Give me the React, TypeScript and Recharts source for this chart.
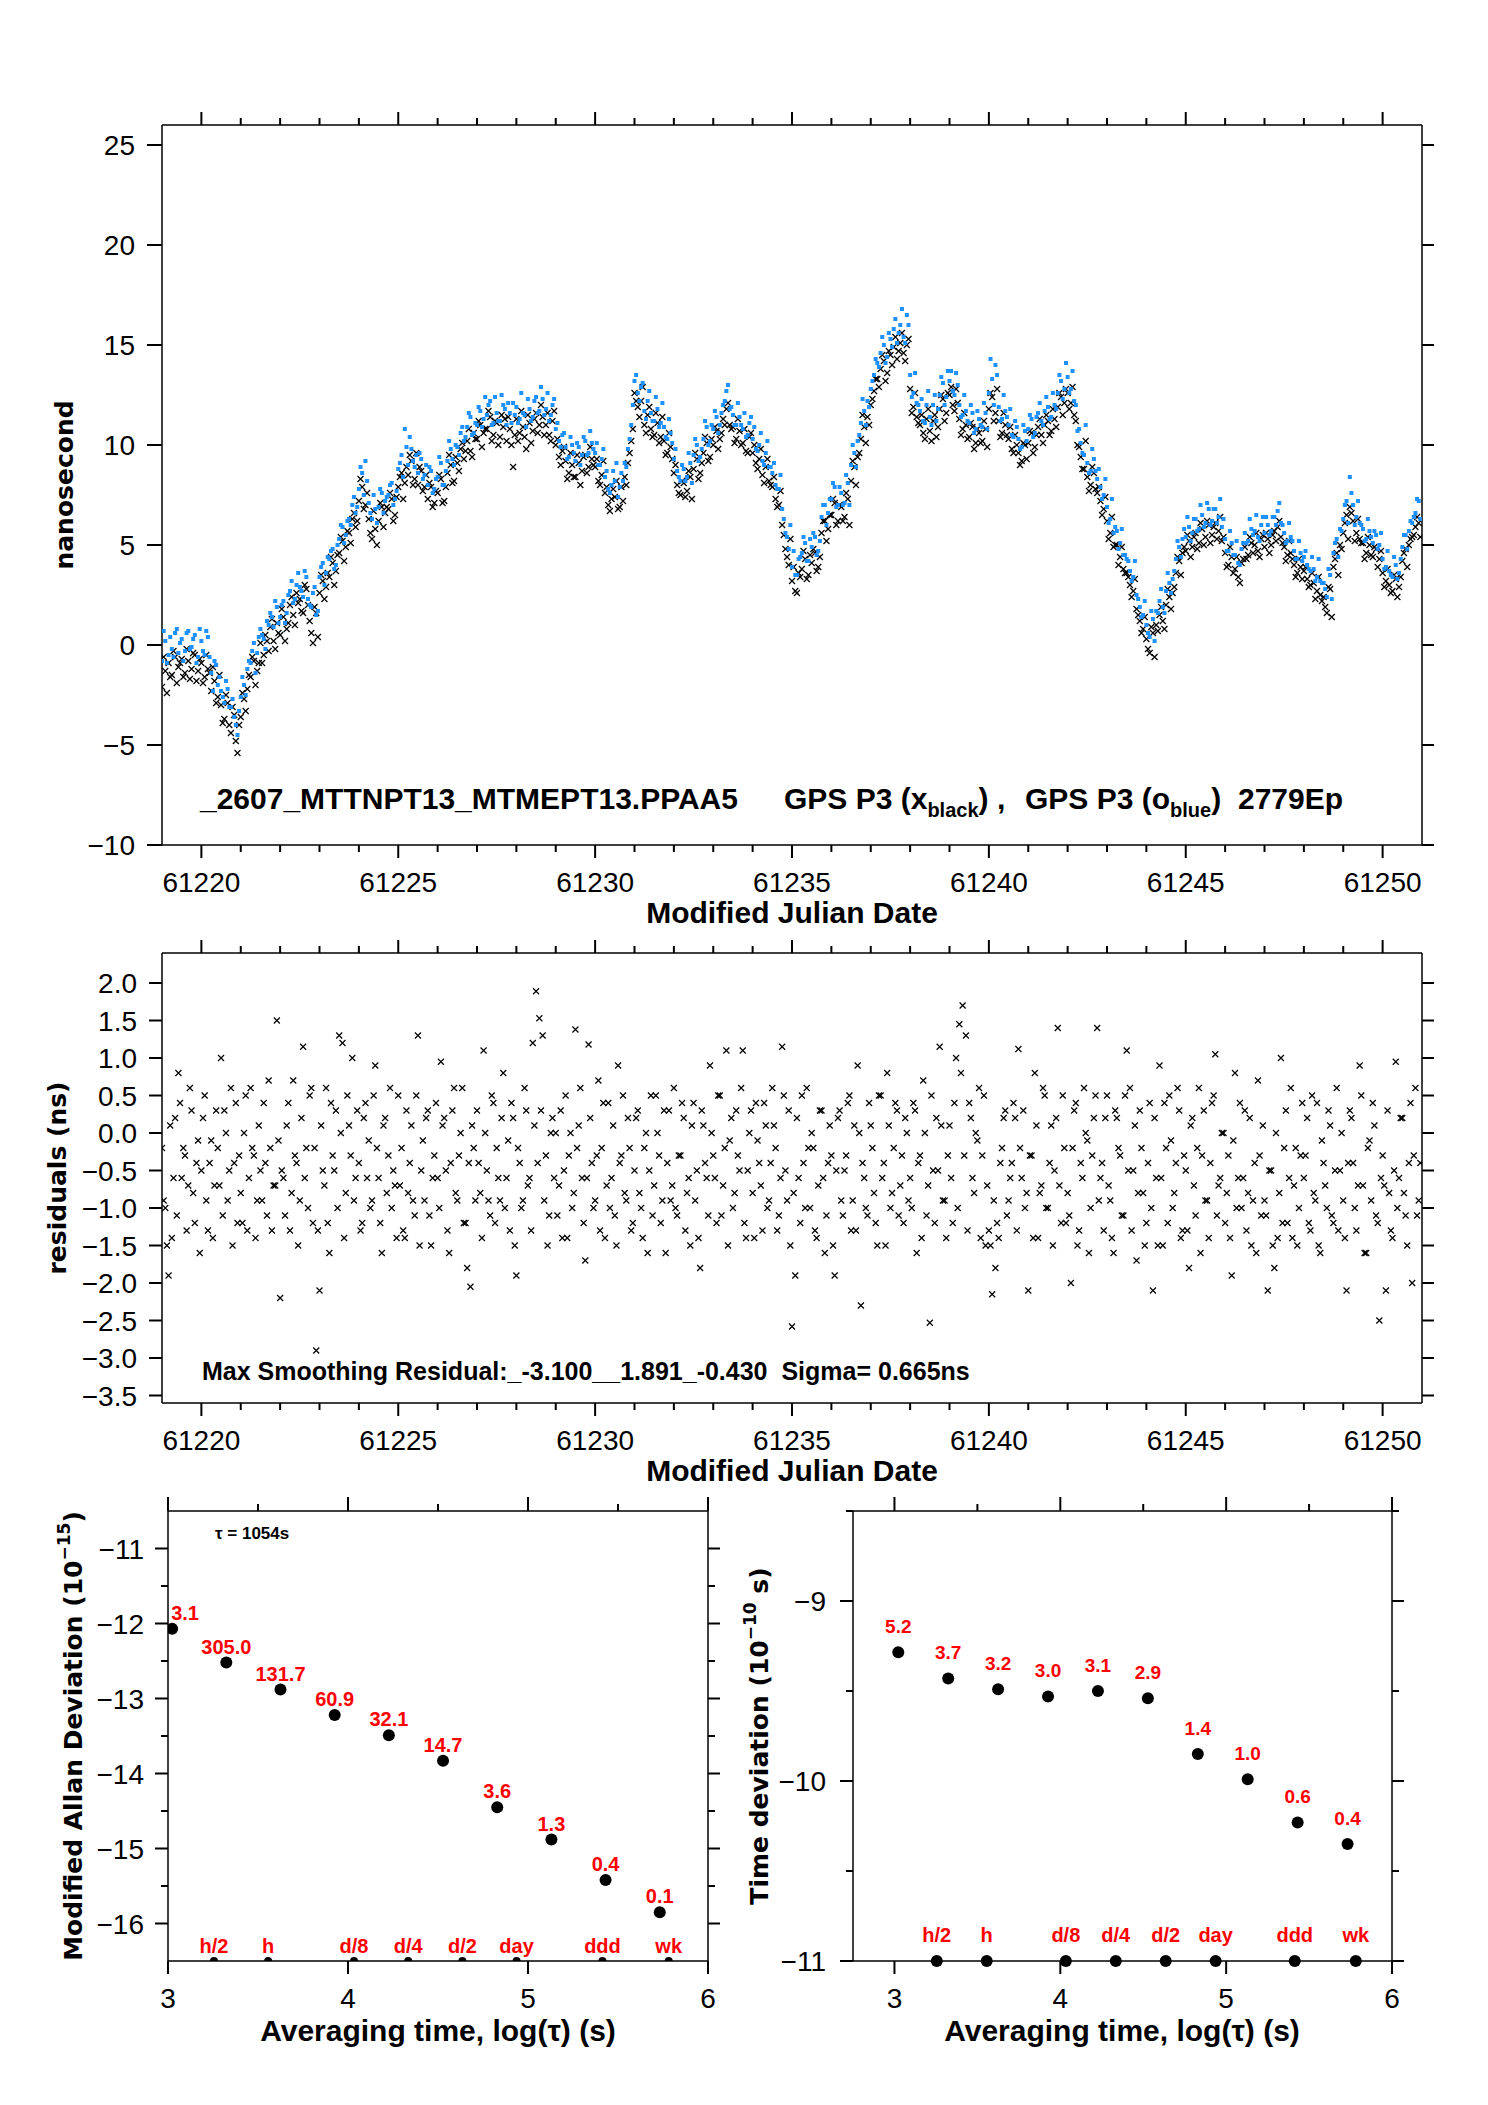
import React from 'react';
import { ScatterChart, Scatter, XAxis, YAxis } from 'recharts';

// ---------------- data ----------------
const MJD_START = 61219;
const SAMPLES_PER_DAY = 12;

// GPS P3 (x black) time offsets, ns, 12 samples per day from MJD 61219 (on the sample grid)
const blackNs: number[] = [
  -2.1, -1.3, -0.9, -1.5, -0.6, -1.1, -0.7, -1.4, -0.8, -1.2, -0.5, -1.3,
  -0.9, -1.6, -1.2, -2.3, -1.8, -2.6, -3.0, -3.7, -2.9, -4.4, -3.5, -5.4,
  -3.6, -2.7, -2.2, -1.6, -0.8, -1.3, 0.1, -0.5, 0.2, 0.9, 0.2, 1.1,
  0.5, 1.4, 0.8, 2.0, 1.5, 2.6, 2.3, 1.6, 2.8, 1.2, 0.1, 1.6,
  2.6, 3.2, 2.9, 3.4, 4.1, 3.7, 4.6, 5.2, 4.9, 5.6, 6.3, 5.9,
  7.2, 7.9, 7.0, 6.3, 5.3, 5.8, 6.2, 6.9, 6.6, 6.8, 7.3, 6.5,
  7.9, 8.6, 8.1, 8.5, 9.2, 8.3, 8.0, 8.7, 7.9, 7.3, 7.9, 7.1,
  7.6, 8.3, 7.2, 8.6, 9.0, 8.2, 9.1, 9.8, 9.3, 10.2, 9.7, 10.6,
  10.3, 11.0, 10.6, 10.8, 11.4, 10.5, 11.1, 10.4, 10.9, 10.2, 10.8, 8.9,
  11.3, 10.6, 10.9, 9.8, 11.1, 10.7, 11.6, 11.0, 11.4, 11.0, 10.5, 11.2,
  10.0, 9.4, 9.7, 9.2, 8.6, 9.0, 8.4, 9.1, 8.7, 9.5, 8.9, 9.3,
  8.9, 8.2, 8.5, 7.6, 7.0, 7.3, 7.4, 6.8, 7.9, 8.4, 9.1, 10.2,
  12.6, 11.9, 12.2, 11.0, 11.5, 10.8, 10.5, 11.1, 10.4, 10.2, 9.6, 9.9,
  8.6, 8.0, 7.5, 8.1, 7.7, 8.4, 8.8, 9.3, 8.6, 9.6, 10.1, 9.4,
  10.0, 10.7, 10.3, 11.3, 11.8, 11.0, 10.9, 10.3, 10.7, 10.1, 9.7, 10.4,
  9.6, 9.1, 9.3, 8.5, 8.9, 8.2, 7.9, 7.3, 7.0, 6.0, 4.8, 4.0,
  3.2, 2.7, 3.6, 3.8, 4.3, 3.5, 4.1, 4.6, 3.9, 5.6, 6.2, 5.8,
  6.5, 7.1, 6.2, 6.9, 6.4, 7.3, 8.2, 8.9, 9.4, 10.3, 10.9, 11.4,
  12.0, 12.7, 13.3, 13.8, 14.2, 13.6, 14.5, 14.9, 14.3, 15.1, 14.6, 15.0,
  12.8, 11.9, 11.4, 11.0, 10.6, 11.3, 10.7, 11.2, 10.4, 11.8, 12.3, 11.6,
  12.5, 12.0, 12.8, 11.3, 10.8, 11.0, 10.4, 10.9, 10.1, 10.6, 10.2, 10.8,
  11.8, 12.4, 11.6, 11.2, 10.6, 11.0, 10.3, 9.8, 10.5, 9.6, 9.2, 10.0,
  10.1, 10.6, 9.9, 10.9, 10.5, 11.0, 11.2, 10.7, 11.3, 11.9, 12.4, 12.1,
  12.6, 12.1, 11.5, 10.0, 9.4, 8.8, 8.4, 8.0, 8.6, 7.6, 7.2, 6.8,
  6.2, 5.6, 4.9, 5.0, 4.4, 3.8, 3.6, 3.0, 2.7, 1.8, 1.2, 0.8,
  0.3, -0.4, 0.6, 1.0, 1.5, 1.2, 2.0, 2.4, 2.6, 3.6, 4.2, 4.6,
  4.7, 5.2, 4.9, 5.6, 5.1, 5.8, 5.4, 6.0, 5.5, 6.1, 5.7, 5.2,
  4.6, 4.0, 4.4, 3.8, 3.4, 4.1, 4.9, 4.5, 5.1, 5.0, 4.7, 5.3,
  4.9, 5.3, 5.0, 5.7, 5.9, 5.4, 4.9, 4.5, 4.6, 4.0, 3.6, 3.9,
  3.7, 3.3, 3.0, 3.1, 2.7, 2.5, 2.4, 1.6, 2.8, 3.9, 4.6, 5.0,
  5.6, 6.5, 6.9, 6.2, 5.6, 5.3, 5.1, 4.6, 5.0, 4.4, 4.8, 4.3,
  3.6, 3.2, 3.0, 2.7, 3.3, 2.9, 4.2, 4.8, 5.0, 5.4, 5.9, 6.1,
];

// GPS P3 (x black), the epochs half-way between the ones above
const blackNsMid: number[] = [
  -0.6, -2.4, -1.6, -0.3, -1.9, -0.9, -1.6, -0.2, -1.7, -0.4, -1.8, -0.7,
  -1.9, -0.5, -1.4, -1.1, -2.9, -1.5, -3.9, -2.5, -4.0, -3.1, -4.8, -4.0,
  -2.4, -3.3, -1.5, -0.6, -2.0, -0.9, -0.9, 0.5, -0.3, 1.3, -0.2, 0.6,
  1.8, 0.2, 1.1, 2.4, 1.0, 2.1, 1.7, 3.0, 2.0, 0.6, 1.9, 0.4,
  3.5, 2.3, 3.6, 4.4, 3.0, 4.5, 5.4, 4.2, 5.7, 5.1, 6.6, 6.2,
  8.3, 6.8, 7.6, 5.6, 6.7, 5.0, 7.1, 5.9, 6.9, 7.6, 6.2, 7.4,
  8.4, 7.3, 8.9, 9.5, 8.0, 9.6, 8.9, 7.7, 8.5, 8.1, 6.9, 7.7,
  8.5, 7.1, 7.9, 9.5, 8.1, 9.4, 8.7, 10.1, 9.7, 10.8, 9.4, 10.3,
  11.2, 9.9, 10.8, 11.7, 10.2, 11.2, 10.0, 11.5, 11.3, 11.4, 10.0, 10.5,
  10.2, 11.7, 10.4, 11.5, 10.1, 11.3, 10.6, 12.0, 10.5, 11.6, 10.2, 11.7,
  10.3, 9.0, 9.9, 8.3, 9.6, 8.4, 9.5, 8.0, 9.4, 8.6, 9.9, 9.0,
  9.3, 8.0, 9.2, 7.9, 6.7, 7.8, 8.2, 6.9, 7.2, 8.0, 9.6, 10.8,
  12.2, 11.4, 12.9, 10.6, 11.9, 10.4, 11.6, 10.1, 11.4, 9.5, 10.6, 9.3,
  9.0, 7.6, 8.2, 7.4, 8.7, 7.3, 9.6, 8.3, 9.1, 10.4, 9.2, 10.3,
  10.9, 9.8, 10.6, 11.0, 12.1, 10.8, 10.1, 11.3, 10.0, 10.8, 9.6, 10.6,
  10.0, 8.8, 9.8, 8.1, 9.3, 8.0, 8.4, 6.9, 7.7, 5.5, 4.4, 5.3,
  3.9, 2.6, 3.4, 4.7, 3.3, 4.5, 4.8, 3.7, 4.4, 6.2, 5.2, 6.5,
  7.3, 6.0, 7.0, 6.2, 7.6, 6.0, 9.2, 8.0, 9.6, 11.5, 10.1, 11.0,
  12.3, 13.3, 12.9, 14.5, 13.2, 14.7, 14.0, 15.4, 14.7, 15.6, 14.2, 15.3,
  11.6, 12.6, 11.1, 11.5, 10.3, 11.8, 10.2, 11.5, 10.9, 12.5, 11.2, 12.6,
  12.9, 11.7, 12.1, 10.5, 11.6, 10.3, 11.1, 9.8, 10.8, 10.1, 11.2, 9.9,
  12.6, 11.2, 12.8, 10.4, 11.6, 10.5, 10.9, 9.6, 10.0, 9.0, 10.1, 9.3,
  10.7, 9.6, 10.5, 11.3, 10.1, 11.5, 10.5, 11.8, 10.9, 12.6, 11.5, 12.8,
  11.8, 12.9, 11.2, 9.9, 8.8, 10.2, 7.7, 8.9, 7.8, 7.9, 6.5, 7.4,
  5.3, 6.4, 5.0, 4.0, 4.9, 3.6, 3.4, 2.4, 3.3, 1.5, 0.6, 1.4,
  -0.2, 0.9, -0.6, 0.7, 1.9, 0.8, 2.8, 1.8, 2.9, 4.4, 3.5, 4.9,
  5.5, 4.4, 5.4, 4.8, 6.1, 5.0, 6.2, 5.1, 5.9, 5.3, 6.4, 5.4,
  3.9, 4.9, 3.6, 4.4, 3.1, 4.3, 4.3, 5.4, 4.6, 5.6, 4.4, 5.5,
  5.6, 4.6, 5.5, 5.2, 6.2, 5.1, 4.2, 5.2, 4.3, 3.4, 4.3, 3.3,
  3.9, 2.9, 3.6, 2.3, 3.4, 2.2, 1.9, 2.9, 1.4, 4.3, 3.5, 4.8,
  6.1, 5.3, 6.6, 5.2, 6.3, 5.1, 4.3, 5.4, 4.5, 4.9, 3.9, 4.7,
  2.9, 3.8, 2.6, 3.5, 2.4, 3.4, 4.6, 3.9, 5.3, 5.5, 6.4, 5.4,
];

// GPS P3 (o blue) time offsets, ns, 12 samples per day from MJD 61219
const blueNs: number[] = [
  -0.8, 0.2, -0.5, -0.2, 0.6, -0.4, 0.3, -0.3, 0.7, -0.1, 0.5, -0.6,
  0.2, -0.5, 0.4, -1.4, -0.8, -2.0, -2.3, -2.9, -2.2, -3.1, -3.6, -4.5,
  -2.6, -2.0, -1.2, -0.9, 0.1, -0.4, 0.8, 0.3, 1.2, 1.6, 0.9, 1.9,
  1.4, 2.2, 1.6, 2.7, 2.1, 3.0, 2.9, 2.4, 3.4, 2.0, 2.6, 1.5,
  3.4, 4.1, 3.6, 4.3, 4.8, 4.0, 5.3, 5.9, 5.5, 6.3, 7.0, 6.6,
  7.8, 8.6, 9.2, 7.1, 6.3, 6.8, 6.9, 7.6, 7.2, 7.5, 8.1, 7.3,
  8.8, 9.5, 10.8, 9.0, 9.8, 8.9, 8.6, 9.3, 8.5, 8.0, 8.7, 7.8,
  8.4, 9.1, 8.0, 9.2, 9.8, 9.0, 9.9, 10.6, 10.2, 10.9, 11.4, 10.6,
  11.0, 11.7, 11.3, 11.5, 12.2, 11.1, 11.6, 11.2, 12.0, 11.0, 11.6, 12.1,
  11.9, 11.3, 11.6, 10.9, 11.8, 11.4, 12.4, 11.7, 12.3, 11.8, 11.2, 12.0,
  10.8, 10.2, 10.5, 9.9, 9.4, 10.0, 9.2, 9.9, 9.5, 10.2, 9.6, 10.1,
  9.6, 9.0, 9.3, 8.4, 7.8, 8.0, 8.2, 7.4, 8.6, 9.1, 9.8, 11.0,
  13.2, 12.6, 12.9, 11.7, 12.2, 11.6, 11.2, 11.8, 11.1, 10.9, 10.3, 10.6,
  9.3, 8.7, 8.2, 8.8, 8.4, 9.1, 9.5, 10.0, 9.4, 10.3, 10.9, 10.2,
  10.8, 11.4, 11.0, 12.0, 12.7, 11.8, 11.5, 11.0, 11.4, 10.8, 10.4, 11.1,
  10.3, 9.8, 10.0, 9.2, 9.6, 8.9, 8.6, 8.0, 7.8, 6.8, 5.6, 4.8,
  3.9, 3.5, 4.3, 4.6, 5.1, 4.2, 4.9, 5.4, 4.7, 6.4, 7.0, 6.6,
  7.3, 7.9, 7.0, 7.6, 7.1, 8.1, 9.0, 9.6, 10.2, 11.1, 11.7, 12.2,
  12.8, 13.5, 14.1, 14.6, 15.0, 14.4, 15.3, 15.8, 15.1, 16.0, 15.4, 16.5,
  13.5, 12.6, 12.1, 11.7, 11.2, 12.0, 11.4, 12.0, 11.2, 12.5, 13.1, 12.4,
  13.2, 12.7, 13.6, 12.0, 11.5, 11.7, 11.1, 11.6, 10.8, 11.3, 10.9, 11.6,
  12.6, 13.3, 14.0, 11.9, 11.3, 11.7, 11.0, 10.5, 11.2, 10.3, 9.9, 10.7,
  10.8, 11.3, 10.6, 11.6, 11.2, 11.7, 11.9, 11.4, 12.0, 12.6, 13.2, 12.8,
  13.4, 12.8, 12.2, 10.7, 10.1, 9.5, 9.1, 8.7, 9.3, 8.3, 7.9, 7.5,
  6.9, 6.3, 5.6, 5.7, 5.1, 4.5, 4.3, 3.7, 3.4, 2.5, 1.9, 1.5,
  1.0, 0.4, 1.3, 1.7, 2.2, 1.9, 2.7, 3.1, 3.3, 4.3, 4.9, 5.3,
  5.4, 5.9, 5.6, 6.3, 5.8, 6.5, 6.1, 6.8, 6.2, 6.8, 6.4, 5.9,
  5.3, 4.7, 5.1, 4.5, 4.1, 4.8, 5.6, 5.2, 5.8, 5.7, 5.4, 6.0,
  5.6, 6.0, 5.7, 6.4, 6.7, 6.1, 5.6, 5.2, 5.4, 4.7, 4.3, 4.6,
  4.4, 4.0, 3.7, 3.8, 3.4, 3.2, 3.1, 2.4, 3.5, 4.6, 5.3, 5.8,
  6.3, 7.2, 8.4, 7.0, 6.4, 6.1, 5.8, 5.3, 5.7, 5.1, 5.5, 5.0,
  4.3, 3.9, 3.7, 3.4, 4.0, 3.6, 4.9, 5.5, 5.7, 6.1, 6.6, 7.2,
];

// GPS P3 (o blue), the epochs half-way between the ones above
const blueNsMid: number[] = [
  0.7, -0.9, 0.4, -0.6, 0.8, 0.1, -0.8, 0.6, -0.2, 0.3, -0.9, 0.8,
  -0.3, 0.7, -0.6, -2.3, -1.0, -1.6, -2.6, -1.8, -3.1, -2.7, -4.0, -3.3,
  -1.6, -2.5, -0.8, -0.3, -1.4, 0.4, 0.5, -0.2, 1.0, 1.4, 2.2, 1.1,
  2.0, 1.1, 2.5, 3.2, 2.3, 3.6, 2.7, 3.7, 2.3, 1.9, 2.9, 1.7,
  3.9, 3.0, 4.4, 4.7, 3.8, 5.0, 6.0, 5.1, 6.2, 6.0, 7.4, 6.9,
  8.9, 7.5, 8.2, 6.6, 7.5, 6.1, 7.8, 6.6, 7.4, 8.0, 7.0, 7.7,
  9.1, 8.4, 9.9, 10.4, 9.2, 9.5, 9.6, 8.3, 9.0, 8.9, 7.6, 8.3,
  9.4, 8.0, 8.7, 10.2, 9.3, 10.0, 9.5, 10.9, 10.4, 11.6, 10.5, 11.1,
  11.9, 10.9, 12.4, 12.0, 11.0, 12.4, 11.2, 12.5, 11.8, 12.1, 11.1, 11.5,
  11.1, 12.6, 11.5, 12.3, 11.2, 12.2, 11.6, 12.9, 11.5, 12.6, 11.5, 12.3,
  11.1, 9.9, 10.6, 9.3, 10.4, 9.6, 10.1, 9.0, 10.4, 9.5, 10.7, 9.8,
  10.1, 9.0, 9.8, 8.7, 7.6, 8.7, 9.1, 7.9, 8.2, 8.9, 10.3, 12.0,
  13.5, 12.2, 13.1, 11.3, 12.7, 11.2, 12.4, 10.9, 12.1, 10.4, 11.3, 10.1,
  9.8, 8.4, 9.0, 8.2, 9.6, 8.1, 10.3, 9.2, 9.8, 11.2, 10.0, 11.0,
  11.7, 10.6, 11.6, 12.2, 13.0, 11.9, 11.0, 12.1, 11.0, 11.6, 10.5, 11.4,
  10.9, 9.7, 10.6, 9.0, 10.2, 8.9, 9.1, 7.8, 8.5, 6.3, 5.4, 6.0,
  4.7, 3.5, 4.4, 5.4, 4.2, 5.3, 5.6, 4.5, 5.2, 7.0, 6.0, 7.3,
  8.1, 6.9, 7.9, 7.0, 8.5, 7.0, 10.0, 8.9, 10.5, 12.3, 11.0, 11.9,
  13.2, 14.3, 13.9, 15.4, 14.1, 15.6, 14.9, 16.3, 15.6, 16.8, 15.1, 16.0,
  12.4, 13.6, 12.0, 12.3, 11.1, 12.7, 11.0, 12.5, 11.8, 13.4, 12.0, 13.7,
  13.7, 12.5, 13.0, 11.4, 12.5, 11.2, 12.0, 10.6, 11.7, 11.0, 12.1, 10.8,
  14.3, 12.0, 13.5, 11.2, 12.5, 11.4, 11.8, 10.4, 10.9, 9.8, 11.0, 10.2,
  11.5, 10.4, 11.4, 12.1, 11.0, 12.4, 11.3, 12.6, 11.8, 13.5, 12.3, 14.1,
  12.6, 13.7, 12.0, 10.8, 9.6, 11.0, 8.6, 9.8, 8.7, 8.8, 7.3, 8.3,
  6.1, 7.3, 5.9, 4.8, 5.8, 4.5, 4.2, 3.2, 4.2, 2.3, 1.4, 2.2,
  0.6, 1.7, 0.2, 1.6, 2.8, 1.6, 3.6, 2.6, 3.7, 5.2, 4.4, 5.8,
  6.4, 5.2, 6.3, 5.7, 7.0, 5.9, 7.1, 6.0, 6.8, 6.1, 7.3, 6.3,
  4.7, 5.7, 4.5, 5.2, 4.0, 5.1, 5.1, 6.3, 5.5, 6.5, 5.2, 6.4,
  6.4, 5.5, 6.4, 6.0, 7.1, 6.0, 5.1, 6.1, 5.2, 4.3, 5.2, 4.2,
  4.7, 3.8, 4.4, 3.2, 4.3, 3.1, 2.8, 3.8, 2.3, 5.1, 4.4, 5.7,
  7.0, 6.1, 7.6, 6.0, 7.2, 6.0, 5.2, 6.3, 5.4, 5.7, 4.8, 5.6,
  3.8, 4.7, 3.5, 4.4, 3.3, 4.3, 5.5, 4.8, 6.2, 6.4, 7.3, 6.3,
];

// smoothing residuals, ns, 12 samples per day from MJD 61219
const residualNs: number[] = [
  -0.2, -1.0, -1.9, -1.4, 0.2, 0.8, -0.6, -0.3, -0.7, 0.3, -1.2, -0.1,
  -0.5, 0.5, -1.3, -0.1, -0.7, -0.2, 1.0, 0.3, -0.9, 0.6, -0.4, -1.2,
  -0.8, 0.0, -1.3, 0.6, -0.3, -0.9, -0.5, 0.4, -1.1, -0.2, -0.7, 1.5,
  -2.2, -0.6, 0.1, -1.3, 0.7, -0.4, -0.9, 1.15, -0.2, 0.5, -1.2, -2.9,
  -2.1, -0.5, 0.6, -1.6, -0.3, 0.3, 1.3, 1.2, -0.8, 0.1, 1.0, -0.6,
  -0.4, -1.2, 0.4, -0.1, -0.9, 0.9, -0.6, -1.6, 0.2, -0.3, -1.0, -0.7,
  0.5, -0.2, -1.4, -0.8, 0.1, -1.1, 1.3, -0.5, -0.9, 0.3, -1.5, -0.3,
  -0.6, 0.95, 0.2, -1.3, -0.4, 0.6, -0.9, 0.0, -1.2, -1.8, -2.05, -0.2,
  0.3, -0.8, 1.1, -0.5, -1.1, 0.4, -0.2, -0.9, 0.8, -0.6, -1.3, 0.2,
  -1.9, -0.4, -0.9, 0.3, -0.6, 1.2, 1.89, 1.53, 1.3, -0.3, -1.1, 0.2,
  0.0, -0.7, -1.4, 0.5, -0.3, -1.0, 1.38, 0.1, -0.6, -1.7, 1.18, -0.4,
  -0.9, 0.7, -0.2, -1.4, 0.4, -0.6, -1.1, 0.9, -0.3, -0.8, 0.2, -1.3,
  -0.5, 0.3, -1.0, -0.2, -1.6, 0.5, -0.7, 0.0, -1.2, 0.3, -0.4, -0.9,
  0.6, -1.1, -0.3, 0.2, -0.8, -1.5, 0.4, -0.5, -1.8, 0.1, -0.6, 0.9,
  -0.3, -1.2, 0.5, -0.7, 1.1, -0.1, -1.0, 0.3, -0.5, 1.1, -1.4, 0.0,
  -0.8, 0.4, -0.4, -1.3, 0.1, -0.9, 0.6, -0.2, -1.1, 1.15, -0.5, 0.3,
  -2.58, -1.9, -0.6, 0.5, -1.0, -0.2, 0.0, -1.3, -0.7, 0.3, -1.6, -0.4,
  -0.3, -1.9, 0.2, -0.9, -0.5, 0.4, -1.3, 0.1, 0.9, -2.3, -0.6, -1.1,
  0.1, -0.8, -1.5, 0.5, -0.4, 0.8, -1.0, -0.2, 0.3, -0.7, -1.2, 0.0,
  -0.6, 0.4, -1.6, -0.3, 0.7, -1.1, -2.53, -0.5, 0.2, 1.15, -0.9, -1.4,
  0.1, -1.2, 1.0, 1.45, 1.7, 1.3, 0.4, -0.6, 0.0, 0.6, -0.3, -1.5,
  -1.3, -2.15, -1.8, -1.4, -0.2, 0.3, -0.9, -0.4, 0.2, 1.12, -0.6, -1.0,
  -2.1, -0.3, 0.8, -1.4, -0.7, 0.5, -1.0, 0.1, -0.5, 1.4, -1.2, -0.2,
  -0.8, -2.0, 0.3, -1.5, -0.4, 0.6, -0.1, -1.0, 0.2, 1.4, -0.6, -1.3,
  0.5, -0.9, -1.6, 0.2, -0.3, -1.1, 1.1, 0.6, -0.5, -1.7, 0.3, -0.8,
  -1.2, 0.4, -2.1, -0.6, 0.9, -1.5, -0.2, 0.5, -1.0, -0.4, 0.3, -1.3,
  -0.5, -1.8, 0.2, -1.1, 0.6, -0.3, -0.9, -1.4, 0.4, 1.05, -0.7, 0.0,
  -1.2, -0.3, -1.9, 0.8, -0.6, -1.0, 0.3, -0.8, -1.5, -0.4, 0.7, -1.1,
  -0.9, -2.1, -0.5, -1.8, -1.4, 1.0, -0.2, -1.2, 0.6, -0.7, -1.5, -0.3,
  -0.6, 0.2, -1.3, -0.8, 0.4, -1.6, -0.4, -1.0, 0.1, -1.2, 0.6, -0.5,
  -0.9, -2.1, 0.3, -0.4, -1.3, 0.9, -0.7, -1.6, -0.1, 0.4, -1.1, -2.5,
  -0.3, -2.1, -0.8, -1.4, 0.95, -0.6, 0.2, -1.1, -0.4, -2.0, 0.6, -0.9,
];

// smoothing residuals, the epochs half-way between the ones above
const residualNsMid: number[] = [
  -0.9, -1.5, 0.1, -0.6, -1.1, 0.4, -0.2, -1.3, 0.6, -0.8, -0.4, -1.6,
  0.2, -0.9, -0.4, -1.4, 0.3, -0.7, -1.1, 0.0, -0.5, -1.5, 0.4, -0.3,
  -1.2, 0.5, -0.6, -0.2, -1.4, 0.1, -0.9, -0.4, 0.7, -1.3, -0.7, -0.1,
  -0.5, -1.1, 0.4, -0.8, -0.3, -1.5, 0.2, -0.6, -1.0, 0.6, -0.2, -1.3,
  0.1, -0.7, -1.2, 0.4, -0.5, -1.0, 0.0, -1.4, 0.5, -0.3, -0.9, 0.3,
  -1.3, 0.2, -0.6, -1.0, 0.5, -0.2, -1.2, 0.1, -0.8, 0.6, -0.5, -1.4,
  -0.7, -1.3, 0.3, -0.4, -0.9, 0.5, -1.5, -0.1, 0.2, -1.1, -0.6, 0.4,
  -1.0, 0.1, -0.5, -1.6, 0.3, -0.8, -0.3, 0.6, -1.2, -0.4, 0.1, -0.9,
  -0.4, -1.4, 0.0, -0.9, 0.5, -1.2, -0.6, 0.2, -1.0, -0.1, 0.4, -1.5,
  -0.2, -1.0, 0.6, -0.7, -1.3, 0.1, -0.4, 0.3, -0.9, -1.5, 0.0, -0.6,
  -1.1, 0.3, -0.5, -1.4, 0.0, -0.8, -0.2, 0.6, -1.2, -0.6, 0.2, -1.0,
  -0.3, -1.3, 0.4, -0.7, -1.0, 0.1, -1.5, -0.4, 0.5, -0.9, -0.2, -1.2,
  0.2, -0.8, -1.4, 0.0, -0.5, -1.1, 0.5, -0.3, -0.9, -1.6, 0.3, -0.7,
  -1.0, -0.3, 0.4, -1.3, -0.6, 0.1, -0.9, -1.4, 0.3, -0.4, -1.1, 0.0,
  -0.6, 0.5, -1.1, -0.2, -1.5, 0.2, -0.8, -0.3, 0.6, -1.2, -0.5, 0.3,
  -1.4, -0.1, -0.7, 0.4, -1.0, -0.4, 0.1, -1.3, -0.6, 0.5, -0.9, -1.5,
  -0.8, 0.2, -1.2, -0.4, 0.6, -1.0, -0.2, -1.4, 0.3, -0.6, -1.1, 0.1,
  -1.5, -0.5, 0.3, -1.1, -0.3, 0.5, -0.9, -1.3, 0.0, -0.4, -1.0, 0.4,
  -0.2, -1.2, 0.5, -0.6, -1.5, 0.1, -0.8, 0.4, -1.1, -0.3, 0.2, -0.9,
  -1.0, 0.3, -0.4, -1.4, 0.0, -0.7, 0.5, -1.2, -0.5, 0.1, -0.9, -0.3,
  -0.6, 0.4, -1.0, 0.8, -0.3, -1.3, 0.2, -0.8, -0.1, -1.4, 0.5, -0.7,
  -1.5, -0.9, -1.2, -0.4, 0.2, -1.1, -0.6, 0.4, -1.3, -0.2, 0.3, -0.8,
  -0.3, -1.4, 0.1, -0.8, 0.6, -1.0, -0.4, -1.5, 0.2, -0.7, 0.5, -1.2,
  -1.1, -0.2, 0.4, -1.3, -0.6, 0.0, -1.6, -0.3, 0.5, -0.9, -0.4, 0.2,
  -0.7, -1.4, 0.3, -0.2, -1.1, 0.5, -0.5, -1.3, 0.1, -0.8, -0.2, -1.5,
  -0.4, -1.0, 0.2, -1.5, -0.6, 0.4, -1.2, -0.1, -0.8, 0.6, -1.4, -0.3,
  -1.3, 0.1, -0.7, -0.2, -1.6, 0.3, -0.9, -0.4, 0.5, -1.1, -0.6, 0.0,
  -0.8, -1.4, -0.1, -1.0, 0.4, -0.6, -1.3, 0.2, -0.9, -1.6, -0.3, 0.1,
  -1.1, -0.5, -1.5, 0.0, -0.8, -1.2, 0.3, -0.6, -1.4, -0.2, -1.0, 0.4,
  -0.3, -1.2, 0.5, -0.9, -1.5, -0.1, -0.7, 0.3, -1.1, -0.5, -1.3, 0.0,
  -1.4, -0.4, 0.2, -1.0, -0.7, 0.5, -1.6, -0.2, -0.9, 0.1, -1.2, -0.6,
  -0.7, 0.3, -1.3, -0.5, -1.0, 0.2, -0.8, -1.5, 0.4, -0.3, -1.1, -0.4,
];

const mjdTicks = [61220, 61221, 61222, 61223, 61224, 61225, 61226, 61227, 61228, 61229, 61230, 61231, 61232, 61233, 61234, 61235, 61236, 61237, 61238, 61239, 61240, 61241, 61242, 61243, 61244, 61245, 61246, 61247, 61248, 61249, 61250];
const mjdMajor = [61220, 61225, 61230, 61235, 61240, 61245, 61250];
const nsTicks = [-10, -5, 0, 5, 10, 15, 20, 25];
const residualTicks = [-3.5, -3, -2.5, -2, -1.5, -1, -0.5, 0, 0.5, 1, 1.5, 2];

// stability analysis (tau0 = 1054 s, octave steps)
const logTau = [3.023, 3.324, 3.625, 3.926, 4.227, 4.528, 4.829, 5.13, 5.431, 5.732];
const mdevLog = [-12.07, -12.52, -12.88, -13.22, -13.49, -13.83, -14.45, -14.88, -15.42, -15.85];
const mdevLabels = ['3.1', '305.0', '131.7', '60.9', '32.1', '14.7', '3.6', '1.3', '0.4', '0.1'];
const tdevLog = [-9.285, -9.43, -9.49, -9.53, -9.5, -9.54, -9.85, -9.99, -10.23, -10.35];
const tdevLabels = ['5.2', '3.7', '3.2', '3.0', '3.1', '2.9', '1.4', '1.0', '0.6', '0.4'];
const spanNames = ['h/2', 'h', 'd/8', 'd/4', 'd/2', 'day', 'ddd', 'wk'];
const spanSeconds = [1800, 3600, 10800, 21600, 43200, 86400, 259200, 604800];
const logTicksTop = [3, 3.5, 4, 4.5, 5, 5.5, 6];
const logTicksBottom = [3, 4, 5, 6];
const logMajor = [3, 4, 5, 6];
const mdevTicks = [-16, -15.5, -15, -14.5, -14, -13.5, -13, -12.5, -12, -11.5, -11];
const mdevMajor = [-16, -15, -14, -13, -12, -11];
const tdevTicks = [-11, -10.5, -10, -9.5, -9, -8.5];
const tdevMajor = [-11, -10, -9];
const MDEV_DOMAIN: [number, number] = [-16.5, -10.5];
const TDEV_DOMAIN: [number, number] = [-11, -8.5];

// ---------------- derived tables ----------------
const series = (vals: number[], phase: number) =>
  vals.map((y, i) => ({ x: MJD_START + (i + phase) / SAMPLES_PER_DAY, y }));
const blackPts = [...series(blackNs, 0), ...series(blackNsMid, 0.5)];
const bluePts = [...series(blueNs, 0), ...series(blueNsMid, 0.5)];
const residualPts = [...series(residualNs, 0), ...series(residualNsMid, 0.5)];
const mdevPts = logTau.map((x, i) => ({ x, y: mdevLog[i], label: mdevLabels[i], first: i === 0 }));
const tdevPts = logTau.map((x, i) => ({ x, y: tdevLog[i], label: tdevLabels[i], first: i === 0 }));
const mdevSpans = spanSeconds.map((s, i) => ({ x: Math.log10(s), y: MDEV_DOMAIN[0], label: spanNames[i] }));
const tdevSpans = spanSeconds.map((s, i) => ({ x: Math.log10(s), y: TDEV_DOMAIN[0], label: spanNames[i] }));

// ---------------- styling helpers ----------------
const FONT = "'Liberation Sans', Arial, Helvetica, sans-serif";
const WIDE = "'DejaVu Sans', Verdana, sans-serif";
const RED = '#ff0000';
const BLUE = '#1e90ff';
const AXIS_LINE = { stroke: '#000', strokeWidth: 1.5 };
const minus = (s: string) => s.replace('-', '\u2212');
const fmtInt = (v: number) => minus(String(v));
const fmtOne = (v: number) => minus(v.toFixed(1));

type Side = 'bottom' | 'top' | 'left' | 'right';
function makeTick(side: Side, majors: number[], majorLen: number, minorLen: number, fmt?: (v: number) => string, labelOffset = 27) {
  return (props: any) => {
    const { x, y, payload } = props;
    const v = payload.value as number;
    const major = majors.some((m) => Math.abs(m - v) < 1e-6);
    const len = major ? majorLen : minorLen;
    let x2 = x;
    let y2 = y;
    if (side === 'bottom') y2 = y + len;
    else if (side === 'top') y2 = y - len;
    else if (side === 'left') x2 = x - len;
    else x2 = x + len;
    let label: React.ReactNode = null;
    if (fmt && major) {
      if (side === 'bottom') {
        label = (
          <text x={x} y={y + labelOffset} textAnchor="middle" fontFamily={FONT} fontSize={28} fill="#000">
            {fmt(v)}
          </text>
        );
      } else if (side === 'left') {
        label = (
          <text x={x - labelOffset} y={y + 10} textAnchor="end" fontFamily={FONT} fontSize={28} fill="#000">
            {fmt(v)}
          </text>
        );
      }
    }
    return (
      <g>
        <line x1={x} y1={y} x2={x2} y2={y2} stroke="#000" strokeWidth={2} />
        {label}
      </g>
    );
  };
}

const axisBase = {
  type: 'number' as const,
  tickSize: 0,
  tickMargin: 0,
  tickLine: false,
  axisLine: AXIS_LINE,
  interval: 0 as const,
};

const CrossMark = (props: any) => {
  const { cx, cy } = props;
  if (cx == null || cy == null) return <g />;
  const s = 3;
  return (
    <path
      d={`M${cx - s},${cy - s}L${cx + s},${cy + s}M${cx - s},${cy + s}L${cx + s},${cy - s}`}
      stroke="#000"
      strokeWidth={1.2}
      fill="none"
    />
  );
};

const BlueMark = (props: any) => {
  const { cx, cy } = props;
  if (cx == null || cy == null) return <g />;
  return <rect x={cx - 2} y={cy - 2} width={4} height={4} fill={BLUE} />;
};

const makeDevDot = (labelDy: number, fontSize: number, firstStart: boolean) => (props: any) => {
  const { cx, cy, payload } = props;
  if (cx == null || cy == null) return <g />;
  const start = firstStart && payload.first;
  return (
    <g>
      <circle cx={cx} cy={cy} r={6} fill="#000" />
      <text
        x={start ? cx - 1 : cx}
        y={cy - labelDy}
        textAnchor={start ? 'start' : 'middle'}
        fontFamily={FONT}
        fontWeight="bold"
        fontSize={fontSize}
        fill={RED}
      >
        {payload.label}
      </text>
    </g>
  );
};

const makeSpanDot = (r: number, labelDy: number) => (props: any) => {
  const { cx, cy, payload } = props;
  if (cx == null || cy == null) return <g />;
  return (
    <g>
      <circle cx={cx} cy={cy} r={r} fill="#000" />
      <text x={cx} y={cy - labelDy} textAnchor="middle" fontFamily={FONT} fontWeight="bold" fontSize={20} fill={RED}>
        {payload.label}
      </text>
    </g>
  );
};

const W = 1488;
const H = 2105;
const layer: React.CSSProperties = { position: 'absolute', left: 0, top: 0 };

// plot rectangles (page px)
const P1 = { l: 162, r: 1422, t: 125, b: 845 };
const P2 = { l: 162, r: 1422, t: 953, b: 1403 };
const P3 = { l: 168, r: 708, t: 1511, b: 1961 };
const P4 = { l: 853, r: 1392, t: 1511, b: 1961 };
const marginOf = (p: { l: number; r: number; t: number; b: number }) => ({
  top: p.t - 1,
  left: p.l - 1,
  right: W - p.r - 1,
  bottom: H - p.b - 1,
});

export default function App() {
  return (
    <div style={{ position: 'absolute', left: 0, top: 0, width: W, height: H, background: '#fff', overflow: 'hidden' }}>
      {/* top: time offsets */}
      <div style={layer}>
        <ScatterChart width={W} height={H} margin={marginOf(P1)}>
          <XAxis {...axisBase} xAxisId="b" orientation="bottom" dataKey="x" height={1} domain={[61219, 61251]} allowDataOverflow ticks={mjdTicks} tick={makeTick('bottom', mjdMajor, 13, 7, fmtInt, 47)} />
          <XAxis {...axisBase} xAxisId="t" orientation="top" dataKey="x" height={1} domain={[61219, 61251]} allowDataOverflow ticks={mjdTicks} tick={makeTick('top', mjdMajor, 13, 7)} />
          <YAxis {...axisBase} yAxisId="l" orientation="left" dataKey="y" width={1} domain={[-10, 26]} allowDataOverflow ticks={nsTicks} tick={makeTick('left', nsTicks, 15, 15, fmtInt, 27)} />
          <YAxis {...axisBase} yAxisId="r" orientation="right" dataKey="y" width={1} domain={[-10, 26]} allowDataOverflow ticks={nsTicks} tick={makeTick('right', nsTicks, 12, 12)} />
          <Scatter xAxisId="b" yAxisId="l" data={blackPts} shape={CrossMark} isAnimationActive={false} />
          <Scatter xAxisId="b" yAxisId="l" data={bluePts} shape={BlueMark} isAnimationActive={false} />
        </ScatterChart>
      </div>

      {/* middle: residuals */}
      <div style={layer}>
        <ScatterChart width={W} height={H} margin={marginOf(P2)}>
          <XAxis {...axisBase} xAxisId="b" orientation="bottom" dataKey="x" height={1} domain={[61219, 61251]} allowDataOverflow ticks={mjdTicks} tick={makeTick('bottom', mjdMajor, 13, 7, fmtInt, 47)} />
          <XAxis {...axisBase} xAxisId="t" orientation="top" dataKey="x" height={1} domain={[61219, 61251]} allowDataOverflow ticks={mjdTicks} tick={makeTick('top', mjdMajor, 13, 7)} />
          <YAxis {...axisBase} yAxisId="l" orientation="left" dataKey="y" width={1} domain={[-3.6, 2.4]} allowDataOverflow ticks={residualTicks} tick={makeTick('left', residualTicks, 13, 13, fmtOne, 25)} />
          <YAxis {...axisBase} yAxisId="r" orientation="right" dataKey="y" width={1} domain={[-3.6, 2.4]} allowDataOverflow ticks={residualTicks} tick={makeTick('right', residualTicks, 12, 12)} />
          <Scatter xAxisId="b" yAxisId="l" data={residualPts} shape={CrossMark} isAnimationActive={false} />
        </ScatterChart>
      </div>

      {/* bottom left: modified Allan deviation */}
      <div style={layer}>
        <ScatterChart width={W} height={H} margin={marginOf(P3)}>
          <XAxis {...axisBase} xAxisId="b" orientation="bottom" dataKey="x" height={1} domain={[3, 6]} allowDataOverflow ticks={logTicksBottom} tick={makeTick('bottom', logMajor, 13, 7, fmtInt, 47)} />
          <XAxis {...axisBase} xAxisId="t" orientation="top" dataKey="x" height={1} domain={[3, 6]} allowDataOverflow ticks={logTicksTop} tick={makeTick('top', logMajor, 14, 7)} />
          <YAxis {...axisBase} yAxisId="l" orientation="left" dataKey="y" width={1} domain={MDEV_DOMAIN} allowDataOverflow ticks={mdevTicks} tick={makeTick('left', mdevMajor, 13, 7, fmtInt, 24)} />
          <YAxis {...axisBase} yAxisId="r" orientation="right" dataKey="y" width={1} domain={MDEV_DOMAIN} allowDataOverflow ticks={mdevTicks} tick={makeTick('right', mdevMajor, 12, 7)} />
          <Scatter xAxisId="b" yAxisId="l" data={mdevSpans} shape={makeSpanDot(4, 8)} isAnimationActive={false} />
          <Scatter xAxisId="b" yAxisId="l" data={mdevPts} shape={makeDevDot(9, 20, true)} isAnimationActive={false} />
        </ScatterChart>
      </div>

      {/* bottom right: time deviation */}
      <div style={layer}>
        <ScatterChart width={W} height={H} margin={marginOf(P4)}>
          <XAxis {...axisBase} xAxisId="b" orientation="bottom" dataKey="x" height={1} domain={[2.75, 6]} ticks={logTicksBottom} tick={makeTick('bottom', logMajor, 13, 7, fmtInt, 47)} />
          <XAxis {...axisBase} xAxisId="t" orientation="top" dataKey="x" height={1} domain={[2.75, 6]} allowDataOverflow ticks={logTicksTop} tick={makeTick('top', logMajor, 14, 7)} />
          <YAxis {...axisBase} yAxisId="l" orientation="left" dataKey="y" width={1} domain={TDEV_DOMAIN} ticks={tdevTicks} tick={makeTick('left', tdevMajor, 13, 7, fmtInt, 27)} />
          <YAxis {...axisBase} yAxisId="r" orientation="right" dataKey="y" width={1} domain={TDEV_DOMAIN} allowDataOverflow ticks={tdevTicks} tick={makeTick('right', tdevMajor, 12, 7)} />
          <Scatter xAxisId="b" yAxisId="l" data={tdevSpans} shape={makeSpanDot(6, 19)} isAnimationActive={false} />
          <Scatter xAxisId="b" yAxisId="l" data={tdevPts} shape={makeDevDot(19, 19, false)} isAnimationActive={false} />
        </ScatterChart>
      </div>

      {/* titles and annotations */}
      <svg width={W} height={H} style={{ ...layer, pointerEvents: 'none' }}>
        <text x={200} y={809} fontFamily={FONT} fontWeight="bold" fontSize={30} fill="#000">
          _2607_MTTNPT13_MTMEPT13.PPAA5
        </text>
        <text x={784} y={809} fontFamily={FONT} fontWeight="bold" fontSize={30} fill="#000">
          GPS P3 (x<tspan dy={8} fontSize={20}>black</tspan>
          <tspan dy={-8}>) ,</tspan>
        </text>
        <text x={1025} y={809} fontFamily={FONT} fontWeight="bold" fontSize={30} fill="#000">
          GPS P3 (o<tspan dy={8} fontSize={20}>blue</tspan>
          <tspan dy={-8}>)</tspan>
        </text>
        <text x={1238} y={809} fontFamily={FONT} fontWeight="bold" fontSize={30} fill="#000">
          2779Ep
        </text>

        <text x={792} y={923} textAnchor="middle" fontFamily={FONT} fontWeight="bold" fontSize={30} fill="#000">
          Modified Julian Date
        </text>
        <text x={792} y={1481} textAnchor="middle" fontFamily={FONT} fontWeight="bold" fontSize={30} fill="#000">
          Modified Julian Date
        </text>
        <text x={202} y={1380} fontFamily={FONT} fontWeight="bold" fontSize={25} fill="#000" style={{ whiteSpace: 'pre' }}>
          {'Max Smoothing Residual:_-3.100__1.891_-0.430  Sigma= 0.665ns'}
        </text>

        <text x={64} y={485} transform="rotate(-90 64 485)" textAnchor="middle" dominantBaseline="central" fontFamily={WIDE} fontWeight="bold" fontSize={25} fill="#000">
          nanosecond
        </text>
        <text x={57} y={1178} transform="rotate(-90 57 1178)" textAnchor="middle" dominantBaseline="central" fontFamily={WIDE} fontWeight="bold" fontSize={25} fill="#000">
          residuals (ns)
        </text>
        <text x={73} y={1736} transform="rotate(-90 73 1736)" textAnchor="middle" dominantBaseline="central" fontFamily={WIDE} fontWeight="bold" fontSize={25} fill="#000">
          Modified Allan Deviation (10<tspan dy={-9} fontSize={17}>{'\u221215'}</tspan>
          <tspan dy={9}>)</tspan>
        </text>
        <text x={759} y={1736} transform="rotate(-90 759 1736)" textAnchor="middle" dominantBaseline="central" fontFamily={WIDE} fontWeight="bold" fontSize={25} fill="#000">
          Time deviation (10<tspan dy={-9} fontSize={17}>{'\u221210'}</tspan>
          <tspan dy={9}>{' s)'}</tspan>
        </text>

        <text x={215} y={1539} fontFamily={FONT} fontWeight="bold" fontSize={17} fill="#000">
          {'\u03c4 = 1054s'}
        </text>
        <text x={438} y={2041} textAnchor="middle" fontFamily={FONT} fontWeight="bold" fontSize={30} fill="#000">
          {'Averaging time, log(\u03c4) (s)'}
        </text>
        <text x={1122} y={2041} textAnchor="middle" fontFamily={FONT} fontWeight="bold" fontSize={30} fill="#000">
          {'Averaging time, log(\u03c4) (s)'}
        </text>
      </svg>
    </div>
  );
}
